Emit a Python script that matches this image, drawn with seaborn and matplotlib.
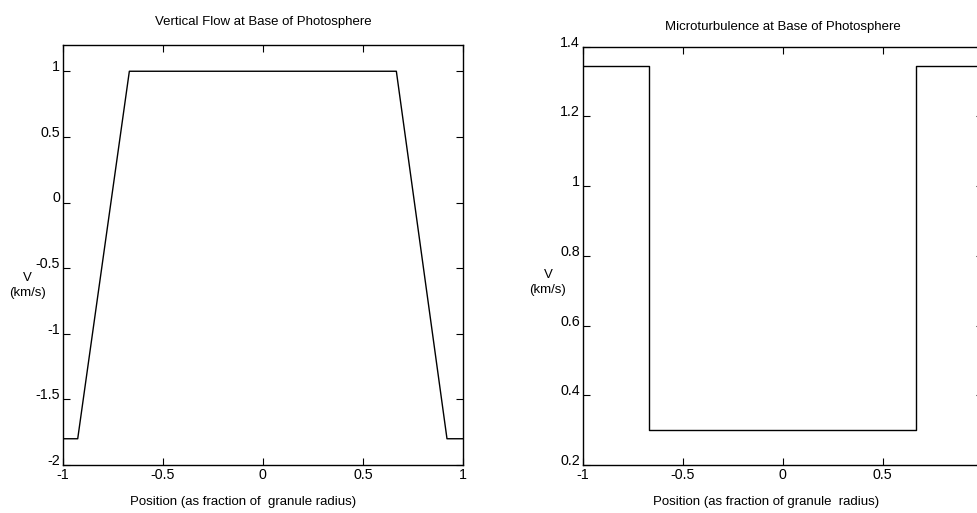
import matplotlib
matplotlib.use("Agg")
import matplotlib.pyplot as plt
import seaborn as sns
import pandas as pd

# ---- data ----
flow_x = [-1.0, -0.925, -0.667, 0.667, 0.92, 1.0]
flow_v = [-1.8, -1.8, 1.0, 1.0, -1.8, -1.8]

turb_x = [-1.0, -0.667, -0.667, 0.667, 0.667, 1.0]
turb_v = [1.345, 1.345, 0.3, 0.3, 1.345, 1.345]

flow_xticks = [-1, -0.5, 0, 0.5, 1]
flow_yticks = [-2, -1.5, -1, -0.5, 0, 0.5, 1]
turb_xticks = [-1, -0.5, 0, 0.5]
turb_yticks = [0.2, 0.4, 0.6, 0.8, 1.0, 1.2, 1.4]

title_left = "Vertical Flow at Base of Photosphere"
title_right = "Microturbulence at Base of Photosphere"
xlabel_left = "Position (as fraction of  granule radius)"
xlabel_right = "Position (as fraction of granule  radius)"
ylabel = "V\n(km/s)"

sns.set_theme(style="ticks")
plt.rcParams['font.family'] = ['Liberation Sans', 'DejaVu Sans']
plt.rcParams['axes.unicode_minus'] = False
plt.rcParams['font.size'] = 9.5

fig = plt.figure(figsize=(9.78, 5.13), dpi=100)
W, H = 978.0, 513.0
ax1 = fig.add_axes([62.7 / W, 48 / H, 400.3 / W, 420 / H])
ax2 = fig.add_axes([582.7 / W, 48 / H, 400 / W, 418.3 / H])

df1 = pd.DataFrame({"x": flow_x, "v": flow_v})
df2 = pd.DataFrame({"x": turb_x, "v": turb_v})

sns.lineplot(data=df1, x="x", y="v", ax=ax1, color="black", lw=1.0,
             sort=False, estimator=None)
sns.lineplot(data=df2, x="x", y="v", ax=ax2, color="black", lw=1.0,
             sort=False, estimator=None)

def fmt(v):
    return "%g" % v

setups = [
    (ax1, (-1, 1), (-2, 1.2), flow_xticks, flow_yticks, title_left, 14.5,
     xlabel_left, 0.45, -0.087, 0.427),
    (ax2, (-1, 1), (0.2, 1.4), turb_xticks, turb_yticks, title_right, 12.0,
     xlabel_right, 0.458, -0.087, 0.436),
]
for ax, xl, yl, xt, yt, title, tpad, xlab, xlx, ylx, yly in setups:
    ax.set_xlim(*xl)
    ax.set_ylim(*yl)
    ax.set_xticks(xt)
    ax.set_xticklabels([fmt(v) for v in xt])
    ax.set_yticks(yt)
    ax.set_yticklabels([fmt(v) for v in yt])
    ax.tick_params(direction="in", top=True, right=True, length=5,
                   width=0.8, color="black", labelsize=10.3, pad=2,
                   labelcolor="black")
    for lab in ax.get_yticklabels():
        lab.set_verticalalignment("baseline")
    for s in ax.spines.values():
        s.set_visible(True)
        s.set_color("black")
        s.set_linewidth(1.0)
    ax.set_title(title, fontsize=9.5, pad=tpad, color="black")
    ax.set_xlabel(xlab, fontsize=9.5, color="black")
    ax.xaxis.set_label_coords(xlx, -0.088)
    ax.xaxis.label.set_verticalalignment("center")
    ax.set_ylabel(ylabel, rotation=0, fontsize=9.5, color="black",
                  ha="center", va="center", multialignment="center",
                  linespacing=1.4)
    ax.yaxis.set_label_coords(ylx, yly)
    ax.set_facecolor("white")

fig.savefig("out.png", dpi=100, facecolor="white")
